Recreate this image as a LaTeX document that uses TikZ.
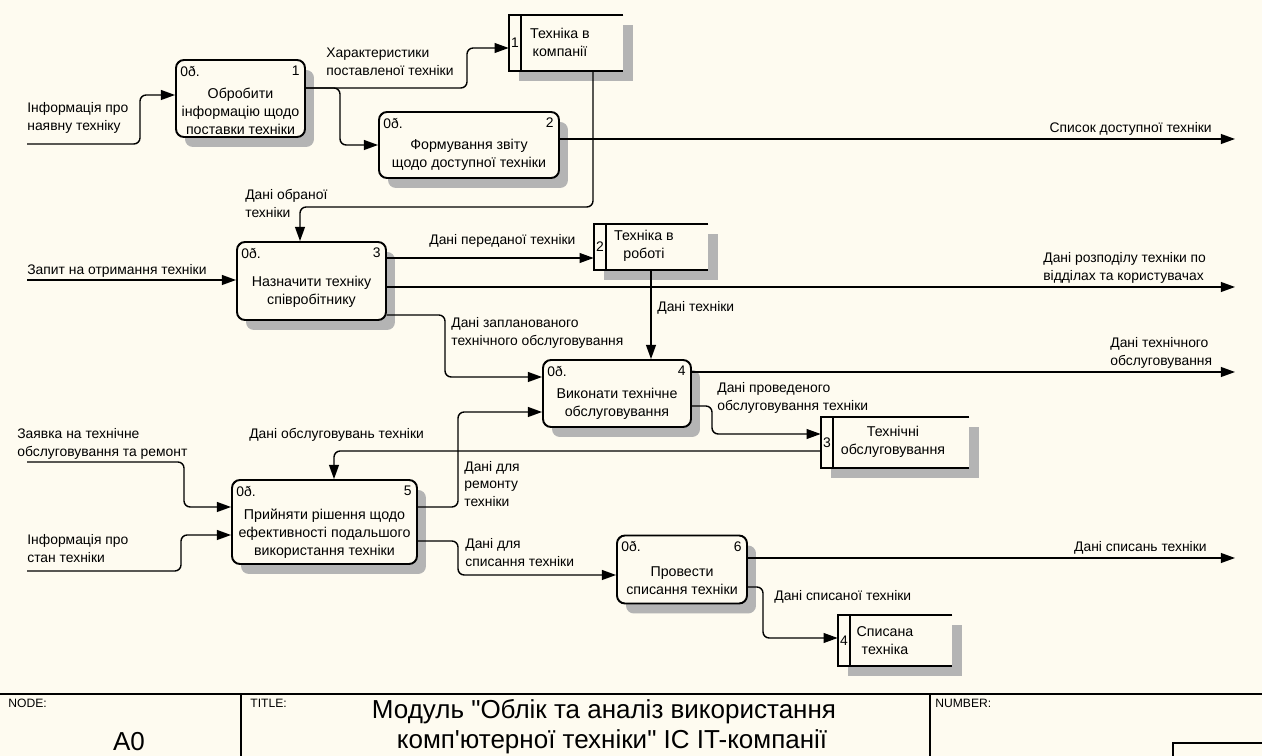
\documentclass[tikz,border=0pt]{standalone}
\usepackage{fontspec}
\setmainfont{Liberation Sans}[Ligatures=TeXOff]
\usetikzlibrary{arrows.meta,shadows}
\definecolor{bgc}{RGB}{254,251,240}
\definecolor{shc}{RGB}{180,180,180}
\begin{document}
\begin{tikzpicture}[x=0.02cm,y=-0.02cm,
  proc/.style={draw, line width=1.1pt, rounded corners=4.5pt, fill=bgc,
    drop shadow={shadow xshift=0.18cm, shadow yshift=-0.2cm, fill=shc, opacity=1}, inner sep=0pt},
  store/.style={fill=bgc, inner sep=0pt,
    drop shadow={shadow xshift=0.2cm, shadow yshift=-0.2cm, fill=shc, opacity=1}},
  sline/.style={line width=1.1pt},
  flow/.style={line width=0.8pt, rounded corners=3.5pt, -{Triangle[length=8pt,width=5.6pt]}},
  lab/.style={font=\fontsize{7.9}{10.2}\selectfont, inner sep=0pt, align=left},
  ptext/.style={font=\fontsize{8.1}{10.2}\selectfont, inner sep=0pt, align=center},
  corner/.style={font=\fontsize{7.9}{9}\selectfont, inner sep=0pt},
  small/.style={font=\fontsize{6.9}{7.5}\selectfont, inner sep=0pt, anchor=west},
  big/.style={font=\fontsize{14.8}{18}\selectfont, inner sep=0pt, align=center},
  tick/.style={line width=0.5pt}]
\useasboundingbox (0,0) rectangle (1262,756);
\fill[bgc] (0,0) rectangle (1262,756);

% ---------- process boxes ----------
\node[proc, minimum width=2.58cm, minimum height=1.54cm] (b1) at (240.5,98.5) {};
\node[proc, minimum width=3.6cm,  minimum height=1.32cm] (b2) at (469,145) {};
\node[proc, minimum width=2.98cm, minimum height=1.56cm] (b3) at (311.5,281) {};
\node[proc, minimum width=2.96cm, minimum height=1.34cm] (b4) at (617,393.5) {};
\node[proc, minimum width=3.7cm,  minimum height=1.68cm] (b5) at (324.5,522) {};
\node[proc, minimum width=2.6cm,  minimum height=1.36cm] (b6) at (682,569.5) {};

\node[ptext] (b1t) at (240.5,111) {Обробити\\інформацію щодо\\поставки техніки};
\node[ptext] (b2t) at (469,155) {Формування звіту\\щодо доступної техніки};
\node[ptext] (b3t) at (311.5,292) {Назначити техніку\\співробітнику};
\node[ptext] (b4t) at (617,404) {Виконати технічне\\обслуговування};
\node[ptext] (b5t) at (324.5,533.5) {Прийняти рішення щодо\\ефективності подальшого\\використання техніки};
\node[ptext] (b6t) at (682,581) {Провести\\списання техніки};

\foreach \b/\n in {b1/1,b2/2,b3/3,b4/4,b5/5,b6/6}{
  \node[corner, anchor=west] (\b o) at ([shift={(5,12)}]\b.north west) {0ð.};
  \node[corner, anchor=east] (\b n) at ([shift={(-6,12)}]\b.north east) {\n};
  \draw[tick] ([shift={(1.5,6)}]\b.north west) -- ([shift={(6,1.5)}]\b.north west);
}

% ---------- data stores ----------
\node[store, minimum width=2.28cm, minimum height=1.12cm] (s1) at (566,43) {};
\node[store, minimum width=2.28cm, minimum height=0.92cm] (s2) at (651,247) {};
\node[store, minimum width=2.96cm, minimum height=1.02cm] (s3) at (895,442.5) {};
\node[store, minimum width=2.28cm, minimum height=1.02cm] (s4) at (895,640.5) {};
\foreach \s/\n in {s1/1,s2/2,s3/3,s4/4}{
  \draw[sline] (\s.north east) -- (\s.north west) -- (\s.south west) -- (\s.south east);
  \draw[sline] ([xshift=0.25cm]\s.north west) -- ([xshift=0.25cm]\s.south west);
  \node[corner] (\s n) at ([xshift=0.125cm]\s.west) {\n};
}
\node[ptext] (s1t) at (560,42) {Техніка в\\компанії};
\node[ptext] (s2t) at (644,245.5) {Техніка в\\роботі};
\node[ptext] (s3t) at (893,442) {Технічні\\обслуговування};
\node[ptext] (s4t) at (885,640.5) {Списана\\техніка};

% ---------- free ends ----------
\coordinate (in1) at (27,144);
\coordinate (in2) at (27,280);
\coordinate (in3) at (27,462);
\coordinate (in4) at (27,571);
\coordinate (out1) at (1235,139);
\coordinate (out2) at (1235,287);
\coordinate (out3) at (1235,372);
\coordinate (out4) at (1235,558);

% ---------- connectors ----------
\draw[flow] (in1) -- (140,144) -- (140,95) -- (b1.west |- 0,95);
\draw[flow] (b1.east |- 0,88) -- (467,88) -- (467,48) -- (s1.west |- 0,48);
\draw[flow] (b1.east |- 0,88) -- (340,88) -- (340,145) -- (b2.west |- 0,145);
\draw[flow] (b2.east |- 0,139) -- (out1);
\draw[flow] (593,0 |- s1.south) -- (593,207) -- (300,207) -- (300,0 |- b3.north);
\draw[flow] (in2) -- (b3.west |- 0,280);
\draw[flow] (b3.east |- 0,258) -- (s2.west |- 0,258);
\draw[flow] (b3.east |- 0,287) -- (out2);
\draw[flow] (b3.east |- 0,315) -- (445,315) -- (445,377) -- (b4.west |- 0,377);
\draw[flow] (651,0 |- s2.south) -- (651,0 |- b4.north);
\draw[flow] (b4.east |- 0,372) -- (out3);
\draw[flow] (b4.east |- 0,406) -- (712,406) -- (712,434) -- (s3.west |- 0,434);
\draw[flow] (s3.west |- 0,451) -- (334,451) -- (334,0 |- b5.north);
\draw[flow] (in3) -- (184,462) -- (184,507) -- (b5.west |- 0,507);
\draw[flow] (in4) -- (181,571) -- (181,535) -- (b5.west |- 0,535);
\draw[flow] (b5.east |- 0,507) -- (458,507) -- (458,412) -- (b4.west |- 0,412);
\draw[flow] (b5.east |- 0,541) -- (458,541) -- (458,575) -- (b6.west |- 0,575);
\draw[flow] (b6.east |- 0,558) -- (out4);
\draw[flow] (b6.east |- 0,587) -- (763,587) -- (763,638) -- (s4.west |- 0,638);

% ---------- connector labels ----------
\node[lab, anchor=west] (l1) at (27,118) {Інформація про\\наявну техніку};
\node[lab, anchor=west] (l2) at (326,61.5) {Характеристики\\поставленої техніки};
\node[lab, anchor=east] (l3) at (1212,129) {Список доступної техніки};
\node[lab, anchor=west] (l4) at (245,203.5) {Дані обраної\\техніки};
\node[lab, anchor=west] (l5) at (27,271) {Запит на отримання техніки};
\node[lab, anchor=west] (l6) at (429,241) {Дані переданої техніки};
\node[lab, anchor=west] (l7) at (1043,267.5) {Дані розподілу техніки по\\відділах та користувачах};
\node[lab, anchor=west] (l8) at (451,333) {Дані запланованого\\технічного обслуговування};
\node[lab, anchor=west] (l9) at (657,308) {Дані техніки};
\node[lab, anchor=west] (l10) at (1110,352.5) {Дані технічного\\обслуговування};
\node[lab, anchor=west] (l11) at (717,398) {Дані проведеного\\обслуговування техніки};
\node[lab, anchor=west] (l12) at (17,444) {Заявка на технічне\\обслуговування та ремонт};
\node[lab, anchor=west] (l13) at (249,435) {Дані обслуговувань техніки};
\node[lab, anchor=west] (l14) at (27,548.5) {Інформація про\\стан техніки};
\node[lab, anchor=west] (l15) at (464,484) {Дані для\\ремонту\\техніки};
\node[lab, anchor=west] (l16) at (465,552.5) {Дані для\\списання техніки};
\node[lab, anchor=east] (l17) at (1207,548) {Дані списань техніки};
\node[lab, anchor=west] (l18) at (774,597) {Дані списаної техніки};

% ---------- footer ----------
\draw[line width=1pt] (0,694) -- (1262,694);
\draw[line width=0.8pt] (241,694) -- (241,756);
\draw[line width=0.8pt] (930,694) -- (930,756);
\node[small] (fnode) at (8,703) {NODE:};
\node[small] (ftitle) at (250,703) {TITLE:};
\node[small] (fnum) at (935,703) {NUMBER:};
\node[big] (fa0) at (129,742) {A0};
\node[big] (ft1) at (604,712) {Модуль "Облік та аналіз використання};
\node[big] (ft2) at (612,742) {комп'ютерної техніки" ІС IT-компанії};
\draw[line width=0.8pt] (1280,743) -- (1173,743) -- (1173,760);
\end{tikzpicture}
\end{document}
